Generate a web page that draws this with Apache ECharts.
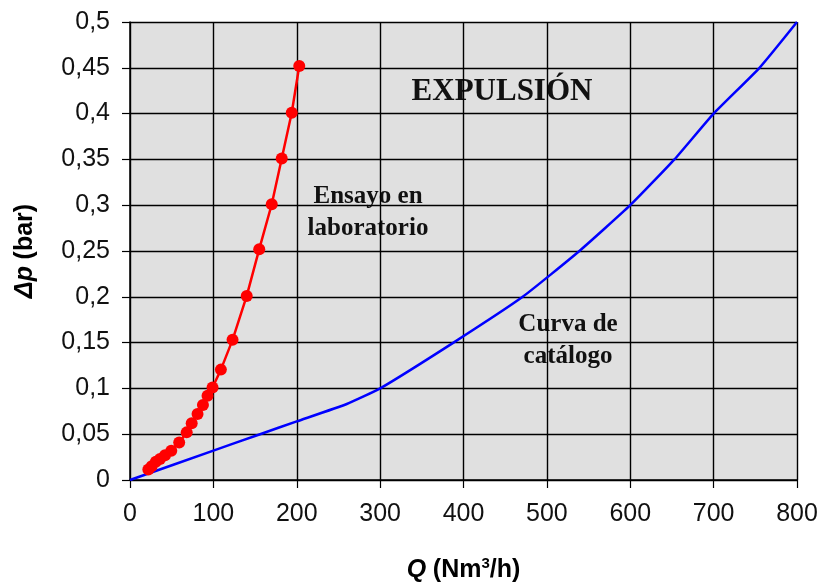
<!DOCTYPE html>
<html><head><meta charset="utf-8">
<script src="https://cdn.jsdelivr.net/npm/echarts@6/dist/echarts.min.js"></script>
<style>html,body{margin:0;padding:0;background:#fff}#c{width:821px;height:588px}</style>
</head><body><div id="c"></div>
<script>
var labQ  = [22, 26, 31, 36, 42, 49.5, 59, 68, 74, 81, 87.5, 93, 99, 109, 123, 140, 155, 170, 182, 194, 203];
var labDp = [0.0115, 0.015, 0.020, 0.023, 0.027, 0.032, 0.041, 0.052, 0.062, 0.072, 0.082, 0.092, 0.101, 0.1205, 0.153, 0.201, 0.252, 0.301, 0.351, 0.401, 0.452];
var catQ  = [0, 100, 156, 200, 260, 300, 388, 471, 539, 600, 653, 700, 755, 800];
var catDp = [0, 0.032, 0.05, 0.064, 0.083, 0.1, 0.15, 0.2, 0.25, 0.3, 0.35, 0.4, 0.45, 0.5];
var xTicks = [0, 100, 200, 300, 400, 500, 600, 700, 800];
var yTicks = [0, 0.05, 0.1, 0.15, 0.2, 0.25, 0.3, 0.35, 0.4, 0.45, 0.5];

function zip(a, b) { return a.map(function (v, i) { return [v, b[i]]; }); }
var chart = echarts.init(document.getElementById('c'));
var serif = '"Liberation Serif", "DejaVu Serif", serif';
var sans = '"Liberation Sans", Arial, sans-serif';
chart.setOption({
  animation: false,
  grid: { left: 130, right: 24, top: 22, bottom: 104, show: true, backgroundColor: '#e0e0e0', borderWidth: 0 },
  xAxis: {
    type: 'value', min: xTicks[0], max: xTicks[xTicks.length - 1], interval: 100,
    axisLine: { show: true, lineStyle: { color: '#000', width: 1.5 } },
    axisTick: { show: true, length: 8, lineStyle: { color: '#000', width: 1.2 } },
    axisLabel: { color: '#111', fontFamily: sans, fontSize: 25, margin: 22 },
    splitLine: { show: true, lineStyle: { color: '#000', width: 1.4 } },
    name: '{i|Q}  {n|(Nm}{s|3}{n|/h)}', nameLocation: 'middle', nameGap: 76,
    nameTextStyle: { rich: {
      i: { fontFamily: sans, fontSize: 25, fontWeight: 'bold', fontStyle: 'italic', color: '#000' },
      n: { fontFamily: sans, fontSize: 25, fontWeight: 'bold', color: '#000' },
      s: { fontFamily: sans, fontSize: 15, fontWeight: 'bold', color: '#000', verticalAlign: 'top', padding: [0, 0, 14, 0] }
    } }
  },
  yAxis: {
    type: 'value', min: yTicks[0], max: yTicks[yTicks.length - 1], interval: 0.05,
    axisLine: { show: true, lineStyle: { color: '#000', width: 1.5 } },
    axisTick: { show: true, length: 8, lineStyle: { color: '#000', width: 1.2 } },
    axisLabel: { color: '#111', fontFamily: sans, fontSize: 25, margin: 20,
      formatter: function (v) { return String(Math.round(v * 100) / 100).replace('.', ','); } },
    splitLine: { show: true, lineStyle: { color: '#000', width: 1.4 } },
    name: '{i|Δp}  {n|(bar)}', nameLocation: 'middle', nameGap: 92, nameRotate: 90,
    nameTextStyle: { rich: {
      i: { fontFamily: sans, fontSize: 25, fontWeight: 'bold', fontStyle: 'italic', color: '#000' },
      n: { fontFamily: sans, fontSize: 25, fontWeight: 'bold', color: '#000' }
    } }
  },
  series: [
    { type: 'line', data: zip(catQ, catDp), symbol: 'none', smooth: 0.15,
      lineStyle: { color: '#0000ff', width: 2.5 }, z: 3 },
    { type: 'line', data: zip(labQ, labDp), symbol: 'circle', symbolSize: 12,
      lineStyle: { color: '#ff0000', width: 2.5 }, itemStyle: { color: '#ff0000' }, z: 4 }
  ],
  graphic: [
    { type: 'text', x: 502, y: 92, style: { text: 'EXPULSIÓN', font: 'bold 31px ' + serif, fill: '#111', align: 'center', verticalAlign: 'middle' } },
    { type: 'text', x: 368, y: 213, style: { text: 'Ensayo en\nlaboratorio', font: 'bold 25px ' + serif, fill: '#111', align: 'center', verticalAlign: 'middle', lineHeight: 32 } },
    { type: 'text', x: 568, y: 341, style: { text: 'Curva de\ncatálogo', font: 'bold 25px ' + serif, fill: '#111', align: 'center', verticalAlign: 'middle', lineHeight: 32 } }
  ]
});
</script></body></html>
